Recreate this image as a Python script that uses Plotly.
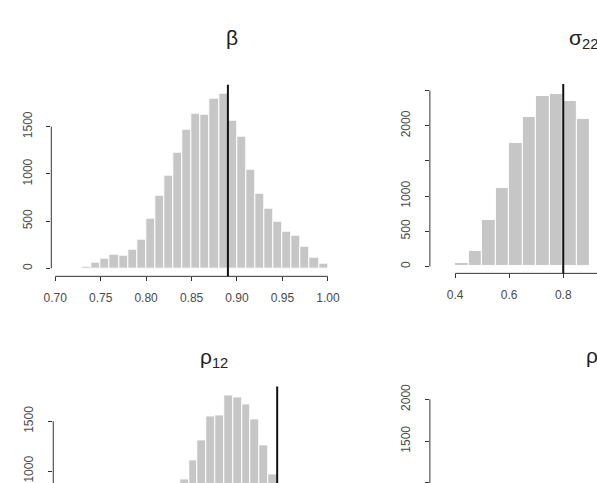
import plotly.graph_objects as go

W, H = 597, 483

# ---- data ----
beta_edges = [0.73, 0.74, 0.75, 0.76, 0.77, 0.78, 0.79, 0.80, 0.81, 0.82, 0.83, 0.84, 0.85, 0.86,
              0.87, 0.88, 0.89, 0.90, 0.91, 0.92, 0.93, 0.94, 0.95, 0.96, 0.97, 0.98, 0.99]
beta_counts = [22, 56, 102, 140, 130, 193, 306, 531, 767, 982, 1228, 1471, 1633, 1626,
               1792, 1845, 1566, 1390, 1042, 795, 637, 489, 387, 345, 232, 116, 53]
beta_width = 0.01
beta_true = 0.89

sigma_edges = [0.40, 0.45, 0.50, 0.55, 0.60, 0.65, 0.70, 0.75, 0.80, 0.85]
sigma_counts = [48, 222, 659, 1116, 1756, 2123, 2420, 2457, 2358, 2095]
sigma_width = 0.05
sigma_true = 0.80

rho12_edges = [0.39, 0.40, 0.41, 0.42, 0.43, 0.44, 0.45, 0.46, 0.47, 0.48, 0.49]
rho12_counts = [917, 1103, 1310, 1550, 1563, 1757, 1743, 1667, 1517, 1260, 967]
rho12_width = 0.01
rho12_true = 0.50

beta_xticks = [0.70, 0.75, 0.80, 0.85, 0.90, 0.95, 1.00]
beta_xticktext = ["0.70", "0.75", "0.80", "0.85", "0.90", "0.95", "1.00"]
beta_yticks = [0, 500, 1000, 1500]
sigma_xticks = [0.4, 0.6, 0.8, 1.0, 1.2]
sigma_xticktext = ["0.4", "0.6", "0.8", "1.0", "1.2"]
sigma_yticks = [0, 500, 1000, 1500, 2000, 2500]
sigma_yticktext = ["0", "500", "1000", " ", "2000", " "]
rho12_yticks = [0, 500, 1000, 1500]
rho13_yticks = [0, 500, 1000, 1500, 2000]

BAR = "#C6C6C6"
AX = "#333333"
TXT = "#4a4a4a"
FONT = "Liberation Sans, Arial, sans-serif"


def px_x(p):
    return p / W


def px_y(p):
    return 1 - p / H


fig = go.Figure()


def add_hist(edges, counts, width, xa, ya):
    fig.add_trace(go.Bar(
        x=[e + width / 2 for e in edges], y=counts, width=width,
        marker=dict(color=BAR, line=dict(color="white", width=1)),
        xaxis=xa, yaxis=ya, showlegend=False, hoverinfo="skip"))


add_hist(beta_edges, beta_counts, beta_width, "x", "y")
add_hist(sigma_edges, sigma_counts, sigma_width, "x2", "y2")
add_hist(rho12_edges, rho12_counts, rho12_width, "x3", "y3")
fig.add_trace(go.Bar(x=[], y=[], xaxis="x4", yaxis="y4", showlegend=False))

common = dict(showgrid=False, zeroline=False, showline=False, ticks="outside",
              ticklen=4, tickwidth=1, tickcolor=AX,
              tickfont=dict(size=12, color=TXT, family=FONT))

rng = {
    "x": [0.6957, 1.0046], "y": [-84.5, 1943.6],
    "x2": [0.3065, 0.8953], "y2": [-99, 2594],
    "x3": [0.2467, 0.5643], "y3": [880, 1850],
    "x4": [0.0, 1.0], "y4": [999, 2155],
}
dom = {
    "x": [px_x(44.5), px_x(333)], "y": [px_y(275.5), px_y(83)],
    "x2": [px_x(433.5), 1.0], "y2": [px_y(272.5), px_y(82.3)],
    "x3": [px_x(46.5), px_x(335)], "y3": [0.0, px_y(386)],
    "x4": [px_x(433.5), 1.0], "y4": [0.0, px_y(386)],
}

layout = dict(
    width=W, height=H, margin=dict(l=0, r=0, t=0, b=0),
    paper_bgcolor="white", plot_bgcolor="white", bargap=0,
    xaxis=dict(domain=dom["x"], range=rng["x"], anchor="y",
               tickvals=beta_xticks, ticktext=beta_xticktext, ticklabelstandoff=6, **common),
    yaxis=dict(domain=dom["y"], range=rng["y"], anchor="x",
               tickvals=beta_yticks, tickangle=-90, ticklabelstandoff=10, **common),
    xaxis2=dict(domain=dom["x2"], range=rng["x2"], anchor="y2",
                tickvals=sigma_xticks, ticktext=sigma_xticktext, ticklabelstandoff=6, **common),
    yaxis2=dict(domain=dom["y2"], range=rng["y2"], anchor="x2",
                tickvals=sigma_yticks, ticktext=sigma_yticktext, tickangle=-90,
                ticklabelstandoff=10, **common),
    xaxis3=dict(domain=dom["x3"], range=rng["x3"], anchor="y3", visible=False),
    yaxis3=dict(domain=dom["y3"], range=rng["y3"], anchor="x3",
                tickvals=rho12_yticks, tickangle=-90, ticklabelstandoff=10, **common),
    xaxis4=dict(domain=dom["x4"], range=rng["x4"], anchor="y4", visible=False),
    yaxis4=dict(domain=dom["y4"], range=rng["y4"], anchor="x4",
                tickvals=rho13_yticks, tickangle=-90, ticklabelstandoff=10, **common),
)
fig.update_layout(**layout)


def to_paper(ax, v):
    r0, r1 = rng[ax]
    d0, d1 = dom[ax]
    return d0 + (v - r0) / (r1 - r0) * (d1 - d0)


def yline(xa, ya, ticks):
    # R-style y axis line from first to last tick, at the left edge of the plot region
    x = dom[xa][0]
    return dict(type="line", xref="paper", yref="paper", x0=x, x1=x,
                y0=to_paper(ya, ticks[0]), y1=to_paper(ya, ticks[-1]),
                line=dict(color=AX, width=1), layer="above")


def xline(xa, ya, ticks):
    y = dom[ya][0]
    return dict(type="line", xref="paper", yref="paper", y0=y, y1=y,
                x0=to_paper(xa, ticks[0]), x1=to_paper(xa, ticks[-1]),
                line=dict(color=AX, width=1), layer="above")


def vline(xa, ya, v):
    return dict(type="line", xref=xa, yref=f"{ya} domain", x0=v, x1=v, y0=0, y1=1,
                line=dict(color="#111111", width=2))


fig.update_layout(shapes=[
    xline("x", "y", beta_xticks), yline("x", "y", beta_yticks),
    xline("x2", "y2", sigma_xticks), yline("x2", "y2", sigma_yticks),
    yline("x3", "y3", rho12_yticks), yline("x4", "y4", rho13_yticks),
    vline("x", "y", beta_true), vline("x2", "y2", sigma_true), vline("x3", "y3", rho12_true),
])

tfont = dict(size=21, color="#222222", family=FONT)
fig.update_layout(annotations=[
    dict(text="β", xref="paper", yref="paper", x=px_x(230), y=px_y(36), xanchor="center",
         yanchor="middle", showarrow=False, font=tfont),
    dict(text="σ<sub>22</sub>", xref="paper", yref="paper", x=px_x(574), y=px_y(37),
         xanchor="left", yanchor="middle", showarrow=False, font=tfont),
    dict(text="ρ<sub>12</sub>", xref="paper", yref="paper", x=px_x(195), y=px_y(357),
         xanchor="left", yanchor="middle", showarrow=False, font=tfont),
    dict(text="ρ<sub>13</sub>", xref="paper", yref="paper", x=px_x(592), y=px_y(356),
         xanchor="left", yanchor="middle", showarrow=False, font=tfont),
])

fig.write_html("out.html")
